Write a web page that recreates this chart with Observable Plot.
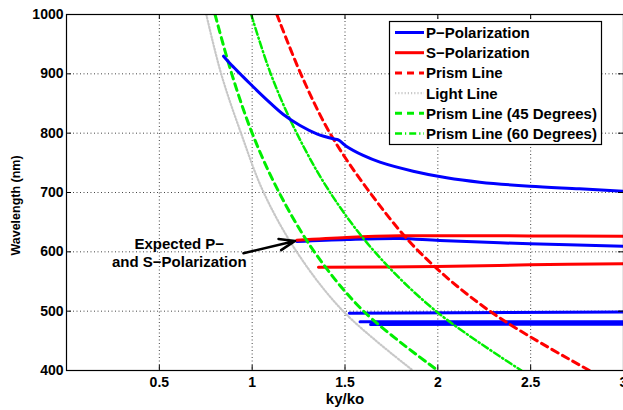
<!DOCTYPE html>
<html>
<head>
<meta charset="utf-8">
<script src="https://cdn.jsdelivr.net/npm/d3@7"></script>
<script src="https://cdn.jsdelivr.net/npm/@observablehq/plot@0.6"></script>
<style>
  html, body { margin: 0; padding: 0; background: white; overflow: hidden; }
</style>
</head>
<body>
<div id="chart"></div>
<script>
// ---- tick values ----
const xTicks = [0.5, 1, 1.5, 2, 2.5, 3];
const yTicks = [400, 500, 600, 700, 800, 900, 1000];

// ---- series (x = ky/ko, y = wavelength nm) ----
const pMainX = [0.846, 0.882, 0.935, 0.989, 1.079, 1.168, 1.258, 1.348, 1.437, 1.464, 1.509, 1.598, 1.688, 1.867, 2.047, 2.226, 2.495, 2.763, 3.0];
const pMainY = [929.7, 916.9, 900.1, 883.2, 856.2, 831.5, 812.9, 798.9, 790.5, 788.8, 777.5, 762.4, 751.1, 735.9, 724.8, 717.4, 710.6, 706.3, 702.2];

const sUpperX = [1.240, 1.509, 1.796, 2.495, 3.0];
const sUpperY = [619.6, 624.2, 627.0, 626.8, 626.4];

const pUpperX = [1.240, 1.509, 1.796, 2.011, 2.495, 3.0];
const pUpperY = [617.4, 620.8, 622.5, 619.0, 613.5, 609.5];

const sLowerX = [1.357, 1.993, 2.495, 3.0];
const sLowerY = [574.1, 575.3, 578.1, 579.8];

const pLow1X = [1.523, 3.0];
const pLow1Y = [496.6, 498.5];
const pLow2X = [1.581, 3.0];
const pLow2Y = [482.2, 482.0];
const pLow3X = [1.638, 3.0];
const pLow3Y = [477.5, 478.0];

const prismY = [1000, 900, 800, 700, 600, 500, 400];
const prismX = [1.133, 1.262, 1.419, 1.634, 1.90, 2.28, 2.817];
const lightX = [0.753, 0.833, 0.94, 1.062, 1.24, 1.49, 1.866];
const p45X   = [0.80, 0.89, 1.0, 1.145, 1.335, 1.60, 2.0];
const p60X   = [0.995, 1.10, 1.24, 1.42, 1.66, 1.99, 2.45];

// annotation
const noteText = ["Expected P\u2212\nand S\u2212Polarization"];
const noteX = [0.6075];
const noteY = [599];
const arrowFrom = [0.953, 597.7];
const arrowTo = [1.231, 618.4];

// legend
const legendLabels = ["P\u2212Polarization", "S\u2212Polarization", "Prism Line", "Light Line", "Prism Line (45 Degrees)", "Prism Line (60 Degrees)"];
const legendColors = ["#0000ff", "#ff0000", "#ff0000", "#c8c8c8", "#00ee00", "#00ee00"];
const legendDash = [null, null, "7 5", "1.2 2", "7 5", "7 3 1.2 3"];
const legendWidth = [3, 3, 3, 2.2, 3, 2.5];

const pts = (xs, ys) => xs.map((x, i) => ({x, y: ys[i]}));

const plotH = 410 - 14 - 40;
const plotW = 623 - 66;
const FONT = "'Liberation Sans', Arial, Helvetica, sans-serif";

const svg = Plot.plot({
  width: 623,
  height: 410,
  marginLeft: 66,
  marginRight: 0,
  marginTop: 14,
  marginBottom: 40,
  x: {domain: [0, 3]},
  y: {domain: [400, 1000]},
  style: {fontFamily: FONT, fontWeight: "bold", fontSize: "14px", color: "black", background: "white"},
  marks: [
    Plot.gridX(xTicks, {stroke: "#444", strokeOpacity: 1, strokeWidth: 1, strokeDasharray: "1 2.5"}),
    Plot.gridY(yTicks, {stroke: "#444", strokeOpacity: 1, strokeWidth: 1, strokeDasharray: "1 2.5"}),
    // polarization bands
    Plot.line(pts(pLow1X, pLow1Y), {x: "x", y: "y", stroke: "#0000ff", strokeWidth: 3, clip: true}),
    Plot.line(pts(pLow2X, pLow2Y), {x: "x", y: "y", stroke: "#0000ff", strokeWidth: 3, clip: true}),
    Plot.line(pts(pLow3X, pLow3Y), {x: "x", y: "y", stroke: "#0000ff", strokeWidth: 3, clip: true}),
    Plot.line(pts(sLowerX, sLowerY), {x: "x", y: "y", stroke: "#ff0000", strokeWidth: 3, curve: "catmull-rom", clip: true}),
    Plot.line(pts(pUpperX, pUpperY), {x: "x", y: "y", stroke: "#0000ff", strokeWidth: 3, curve: "catmull-rom", clip: true}),
    Plot.line(pts(sUpperX, sUpperY), {x: "x", y: "y", stroke: "#ff0000", strokeWidth: 3, curve: "catmull-rom", clip: true}),
    // light & prism lines
    Plot.line(pts(lightX, prismY), {x: "x", y: "y", stroke: "#c8c8c8", strokeWidth: 2.2, strokeDasharray: "1.2 2", curve: "catmull-rom", clip: true}),
    Plot.line(pts(p45X, prismY), {x: "x", y: "y", stroke: "#00ee00", strokeWidth: 3, strokeDasharray: "7 5", curve: "catmull-rom", clip: true}),
    Plot.line(pts(p60X, prismY), {x: "x", y: "y", stroke: "#00ee00", strokeWidth: 2.5, strokeDasharray: "7 3 1.2 3", curve: "catmull-rom", clip: true}),
    Plot.line(pts(prismX, prismY), {x: "x", y: "y", stroke: "#ff0000", strokeWidth: 3, strokeDasharray: "7 5", curve: "catmull-rom", clip: true}),
    Plot.line(pts(pMainX, pMainY), {x: "x", y: "y", stroke: "#0000ff", strokeWidth: 3, curve: "catmull-rom", clip: true}),
    // annotation
    Plot.arrow([0], {x1: () => arrowFrom[0], y1: () => arrowFrom[1], x2: () => arrowTo[0], y2: () => arrowTo[1], stroke: "black", strokeWidth: 2.5, headLength: 10, headAngle: 40}),
    Plot.text(noteText, {x: () => noteX[0], y: () => noteY[0], text: d => d, fontSize: 15, fontWeight: "bold", lineHeight: 1.22, textAnchor: "middle", lineAnchor: "middle", fill: "black"}),
    // frame and inner ticks
    Plot.frame({stroke: "black", strokeWidth: 1.2}),
    Plot.tickX(xTicks, {x: d => d, insetBottom: plotH - 5, stroke: "black"}),
    Plot.tickX(xTicks, {x: d => d, insetTop: plotH - 5, stroke: "black"}),
    Plot.tickY(yTicks, {y: d => d, insetRight: plotW - 5, stroke: "black"}),
    Plot.tickY(yTicks, {y: d => d, insetLeft: plotW - 5, stroke: "black"}),
    // axes
    Plot.axisX(xTicks, {anchor: "bottom", tickSize: 0, tickPadding: 7, fontSize: 14, tickFormat: d => String(d), label: null}),
    Plot.axisY(yTicks, {anchor: "left", tickSize: 0, tickPadding: 3, fontSize: 14, tickFormat: d => String(d), label: null}),
    Plot.text(["ky/ko"], {frameAnchor: "bottom", dy: 29, lineAnchor: "middle", textAnchor: "middle", text: d => d, fontSize: 15, fontWeight: "bold"}),
    Plot.text(["Wavelength (nm)"], {frameAnchor: "left", dx: -51, dy: 13, rotate: -90, textAnchor: "middle", lineAnchor: "middle", text: d => d, fontSize: 12.5, fontWeight: "bold"})
  ]
});

// legend box inside the plot
const g = d3.select(svg).append("g").attr("class", "legend").attr("text-anchor", "start");
g.append("rect").attr("x", 389.5).attr("y", 21.5).attr("width", 212).attr("height", 123)
  .attr("fill", "white").attr("stroke", "black").attr("stroke-width", 1.2);
legendLabels.forEach((lab, i) => {
  const cy = 32.5 + i * 20.2;
  const ln = g.append("line").attr("x1", 395).attr("x2", 424).attr("y1", cy).attr("y2", cy)
    .attr("stroke", legendColors[i]).attr("stroke-width", legendWidth[i]);
  if (legendDash[i]) ln.attr("stroke-dasharray", legendDash[i]);
  g.append("text").attr("x", 426).attr("y", cy).attr("dy", "0.36em")
    .attr("text-anchor", "start")
    .attr("font-size", 15).attr("font-weight", "bold").attr("fill", "black")
    .attr("font-family", FONT).text(lab);
});

document.getElementById("chart").appendChild(svg);
</script>
</body>
</html>
